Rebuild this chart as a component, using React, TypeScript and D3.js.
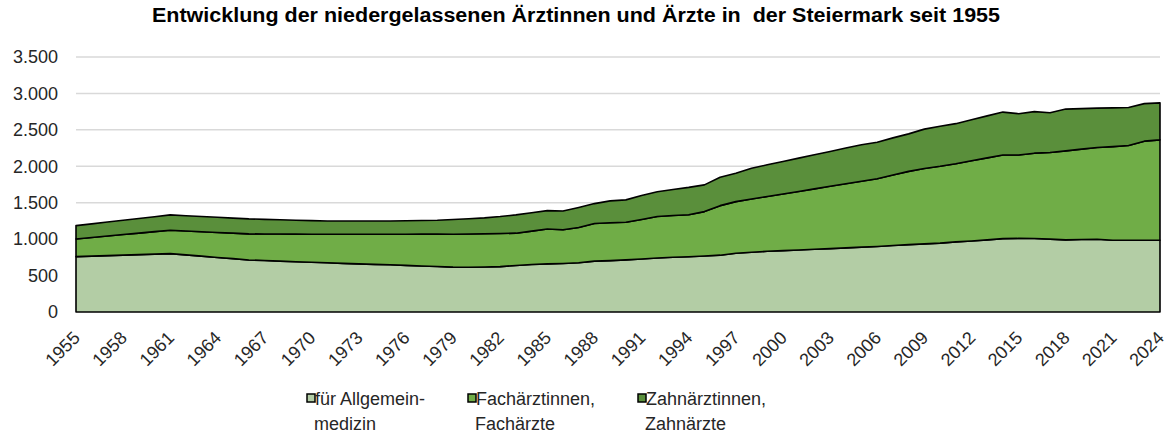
import React from "react";
import * as d3 from "d3";

const years: number[] = d3.range(1955, 2025);

const allgemein: number[] = [
  760, 767, 774, 781, 788, 795, 801, 784, 767, 749,
  732, 714, 706, 698, 690, 682, 675, 668, 661, 654,
  648, 640, 632, 625, 616, 615, 618, 623, 638, 652,
  660, 666, 675, 698, 705, 716, 728, 742, 752, 758,
  768, 780, 806, 820, 833, 843, 852, 861, 870, 880,
  890, 900, 912, 925, 935, 945, 962, 975, 990, 1007,
  1010, 1008, 1000, 990, 995, 998, 985, 985, 985, 985,
];

const fach: number[] = [
  243, 256, 269, 282, 295, 308, 321, 328, 335, 343,
  350, 358, 365, 372, 379, 386, 392, 399, 406, 413,
  419, 428, 437, 444, 452, 455, 455, 454, 444, 458,
  480, 462, 485, 517, 520, 516, 542, 568, 573, 577,
  610, 680, 709, 730, 752, 777, 803, 829, 855, 880,
  905, 930, 968, 1005, 1035, 1055, 1073, 1100, 1125, 1148,
  1145, 1172, 1189, 1222, 1240, 1260, 1285, 1300, 1360, 1378,
];

const zahn: number[] = [
  183, 187, 192, 196, 201, 205, 211, 210, 209, 208,
  207, 206, 201, 196, 191, 186, 183, 183, 183, 183,
  183, 184, 187, 190, 202, 210, 219, 233, 251, 252,
  252, 259, 275, 273, 300, 307, 328, 340, 356, 375,
  367, 390, 390, 424, 435, 446, 457, 468, 479, 490,
  501, 501, 510, 515, 540, 550, 550, 565, 577, 589,
  567, 570, 545, 573, 557, 540, 532, 522, 515, 507,
];

const seriesKeys = ["allgemein", "fach", "zahn"];
const seriesColors = ["#b3cda5", "#70ad47", "#5a8f3b"];
const legendLines: string[][] = [
  ["für Allgemein-", "medizin"],
  ["Fachärztinnen,", "Fachärzte"],
  ["Zahnärztinnen,", "Zahnärzte"],
];
const yTicks: number[] = [0, 500, 1000, 1500, 2000, 2500, 3000, 3500];
const xTickYears: number[] = d3.range(1955, 2025, 3);
const title = "Entwicklung der niedergelassenen Ärztinnen und Ärzte in  der Steiermark seit 1955";

const W = 1170;
const H = 436;
const margin = { left: 76, right: 10, top: 57, bottom: 124 };

export default function App() {
  const rows = years.map((y, i) => ({
    year: y,
    allgemein: allgemein[i],
    fach: fach[i],
    zahn: zahn[i],
  }));
  const stack = d3.stack<any>().keys(seriesKeys);
  const stacked = stack(rows);

  const x = d3
    .scaleLinear()
    .domain([1955, 2024])
    .range([margin.left, W - margin.right]);
  const y = d3
    .scaleLinear()
    .domain([0, 3500])
    .range([H - margin.bottom, margin.top]);

  const area = d3
    .area<any>()
    .x((d) => x(d.data.year))
    .y0((d) => y(d[0]))
    .y1((d) => y(d[1]));

  const fmt = (v: number) => d3.format(",")(v).replace(/,/g, ".");
  const font = "'Liberation Sans', Arial, sans-serif";

  const legendX = [307, 468, 638];

  return (
    <svg
      width={W}
      height={H}
      style={{ position: "absolute", left: 0, top: 0, background: "#fff" }}
      fontFamily={font}
    >
      <text
        x={152}
        y={22}
        textAnchor="start"
        fontWeight="bold"
        fontSize={19.5}
        textLength={848}
        lengthAdjust="spacingAndGlyphs"
        fill="#000"
        style={{ whiteSpace: "pre" }}
      >
        {title}
      </text>
      {yTicks.map((t) => (
        <g key={t}>
          {t > 0 && (
            <line
              x1={x(1955)}
              x2={x(2024)}
              y1={y(t)}
              y2={y(t)}
              stroke="#d9d9d9"
              strokeWidth={1.5}
            />
          )}
          <text
            x={58}
            y={y(t)}
            dy="0.35em"
            textAnchor="end"
            fontSize={18}
            fill="#262626"
          >
            {fmt(t)}
          </text>
        </g>
      ))}
      {stacked.map((s, i) => (
        <path
          key={s.key}
          d={area(s) || ""}
          fill={seriesColors[i]}
          stroke="#000"
          strokeWidth={1.6}
          strokeLinejoin="round"
        />
      ))}
      {xTickYears.map((yr) => (
        <text
          key={yr}
          transform={`translate(${x(yr) + 5},${y(0) + 27}) rotate(-45)`}
          textAnchor="end"
          fontSize={18}
          fill="#262626"
        >
          {yr}
        </text>
      ))}
      {legendLines.map((lines, i) => (
        <g key={i}>
          <rect
            x={legendX[i]}
            y={394}
            width={8}
            height={8}
            fill={seriesColors[i]}
            stroke="#000"
            strokeWidth={1.5}
          />
          <text x={legendX[i] + 8} y={405} fontSize={18} fill="#262626">
            <tspan x={legendX[i] + 8}>{lines[0]}</tspan>
            <tspan x={legendX[i] + 7} dy={25}>
              {lines[1]}
            </tspan>
          </text>
        </g>
      ))}
    </svg>
  );
}
